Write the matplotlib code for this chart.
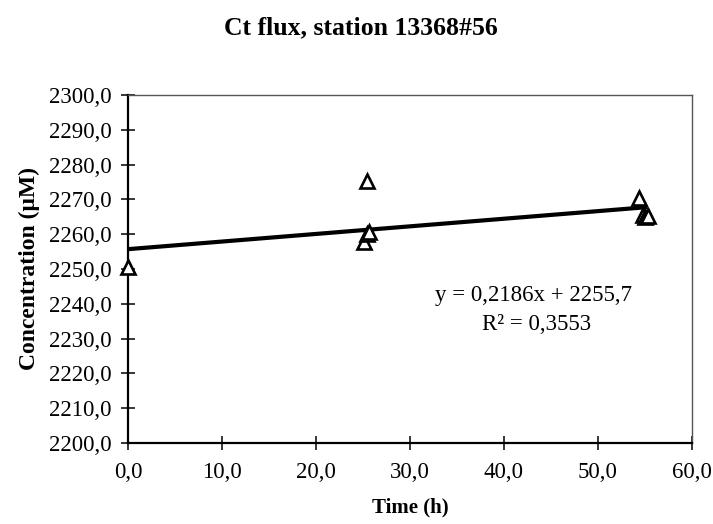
import matplotlib
matplotlib.use("Agg")
import matplotlib.pyplot as plt
import numpy as np
from matplotlib.ticker import FuncFormatter

# Data
time_h = [0.0, 25.1, 25.4, 25.6, 25.4, 54.4, 54.8, 55.0, 55.3]
conc_uM = [2250.6, 2257.8, 2260.2, 2260.6, 2275.3, 2270.4, 2265.4, 2264.8, 2265.1]
slope = 0.2186
intercept = 2255.7
r2_label = "0,3553"
x_ticks = [0, 10, 20, 30, 40, 50, 60]
y_ticks = [2200, 2210, 2220, 2230, 2240, 2250, 2260, 2270, 2280, 2290, 2300]

plt.rcParams['font.family'] = ['Liberation Serif', 'DejaVu Serif']

fig = plt.figure(figsize=(7.13, 5.24), dpi=100)
ax = fig.add_axes([0.1795, 0.1546, 0.7910, 0.6641])

x_line = np.array([min(time_h), max(time_h)])
ax.plot(x_line, slope * x_line + intercept, color='black', lw=3.0, zorder=2,
        solid_capstyle='butt')
ax.plot(time_h, conc_uM, linestyle='none', marker='^', markersize=9.5,
        markerfacecolor='white', markeredgecolor='black', markeredgewidth=1.9,
        zorder=3, clip_on=False)

ax.set_xlim(0, 60)
ax.set_ylim(2200, 2300)
ax.set_xticks(x_ticks)
ax.set_yticks(y_ticks)
fmt = FuncFormatter(lambda v, p: f"{v:.1f}".replace('.', ','))
ax.xaxis.set_major_formatter(fmt)
ax.yaxis.set_major_formatter(fmt)
ax.tick_params(direction='inout', length=10, width=1.1, labelsize=16.5,
               colors='black')
ax.tick_params(axis='y', pad=7)
ax.tick_params(axis='x', pad=9)

for s in ['left', 'bottom']:
    ax.spines[s].set_linewidth(1.6)
    ax.spines[s].set_color('black')
for s in ['top', 'right']:
    ax.spines[s].set_linewidth(1.0)
    ax.spines[s].set_color('#555555')
    ax.spines[s].set_linestyle((0, (2, 1)))

fig.text(0.506, 0.947, "Ct flux, station 13368#56", ha='center', va='center',
         fontsize=18.5, fontweight='bold')
ax.set_xlabel("Time (h)", fontsize=15, fontweight='bold', labelpad=10)
ax.set_ylabel("Concentration (μM)", fontsize=17, fontweight='bold', labelpad=6)

eq = f"y = {str(slope).replace('.', ',')}x + {str(intercept).replace('.', ',')}"
ax.text(0.748, 0.437, eq, transform=fig.transFigure, ha='center', va='center', fontsize=16.5)
ax.text(0.753, 0.380, "R² = " + r2_label, transform=fig.transFigure,
        ha='center', va='center', fontsize=16.5)

fig.savefig("out.png", dpi=100)
